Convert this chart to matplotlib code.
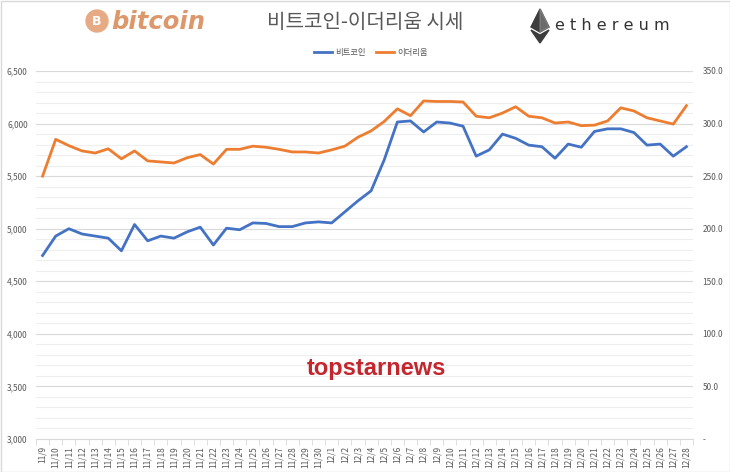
import numpy as np
import matplotlib
matplotlib.use('Agg')
import matplotlib.pyplot as plt
from matplotlib.patches import Polygon, Circle, Rectangle
from matplotlib.ticker import FixedLocator, MultipleLocator, FuncFormatter

plt.rcParams['font.family'] = ['Noto Sans CJK KR', 'DejaVu Sans']

# dates 11/9 .. 12/28
dates = [f'11/{d}' for d in range(9, 31)] + [f'12/{d}' for d in range(1, 29)]

# bitcoin (left axis, USD)
btc = [4745, 4930, 5000, 4950, 4930, 4910, 4790, 5040, 4885, 4930,
       4910, 4970, 5015, 4845, 5005, 4990, 5055, 5050, 5020, 5020,
       5055, 5065, 5055, 5160, 5265, 5360, 5655, 6015, 6025, 5920,
       6015, 6005, 5975, 5690, 5750, 5900, 5860, 5795, 5780, 5670,
       5805, 5775, 5925, 5950, 5950, 5915, 5795, 5805, 5690, 5780]

# ethereum (right axis, USD)
eth = [250.0, 285.0, 279.0, 274.0, 272.0, 276.0, 266.5, 274.0, 264.5, 263.5,
       262.5, 267.5, 270.5, 261.5, 275.5, 275.5, 278.5, 277.5, 275.5, 273.0,
       273.0, 272.0, 275.0, 278.5, 287.0, 293.0, 302.0, 314.0, 307.5, 321.5,
       321.0, 321.0, 320.5, 307.0, 305.5, 310.0, 316.0, 307.0, 305.5, 300.5,
       301.5, 298.0, 298.5, 302.5, 315.0, 312.0, 305.5, 302.5, 299.5, 317.0]

BLUE = '#4472C4'
ORANGE = '#ED7D31'
GRAY = '#595959'

fig = plt.figure(figsize=(7.3, 4.72), dpi=100)
ax = fig.add_axes([36/730, 1 - 439/472, (693 - 36)/730, (439 - 71)/472])
ax2 = ax.twinx()

x = np.arange(len(dates))
l1, = ax.plot(x, btc, color=BLUE, lw=2.0, solid_joinstyle='round', zorder=3)
l2, = ax2.plot(x, eth, color=ORANGE, lw=2.0, solid_joinstyle='round', zorder=3)

ax.set_ylim(3000, 6500)
ax2.set_ylim(0, 350)
ax.set_xlim(-0.5, len(dates) - 0.5)

# gridlines: major every 500, minor every 100
ax.yaxis.set_major_locator(MultipleLocator(500))
ax.yaxis.set_minor_locator(MultipleLocator(100))
ax.grid(axis='y', which='major', color='#d9d9d9', lw=0.8, zorder=0)
ax.grid(axis='y', which='minor', color='#eeeeee', lw=0.8, zorder=0)
ax.set_axisbelow(True)

ax.yaxis.set_major_formatter(FuncFormatter(lambda v, p: f'{int(v):,}'))
ax2.yaxis.set_major_locator(MultipleLocator(50))
ax2.yaxis.set_major_formatter(FuncFormatter(lambda v, p: '-' if v == 0 else f'{v:.1f}'))

ax.set_xticks(x)
ax.set_xticklabels(dates, rotation=90)
ax.xaxis.set_minor_locator(FixedLocator(np.arange(-0.5, len(dates), 1)))
ax.tick_params(axis='x', which='major', length=0, labelsize=6, colors=GRAY, pad=5)
ax.tick_params(axis='x', which='minor', length=4, color='#d9d9d9', direction='out')
ax.tick_params(axis='y', which='both', length=0, labelsize=6, colors=GRAY, pad=6)
ax2.tick_params(axis='y', which='both', length=0, labelsize=6, colors=GRAY, pad=7)

for a in (ax, ax2):
    for s in a.spines.values():
        s.set_visible(False)
ax.spines['bottom'].set_visible(True)
ax.spines['bottom'].set_color('#d9d9d9')

# title and legend
fig.text(0.5, 1 - 22/472, '비트코인-이더리움 시세', ha='center', va='center',
         fontsize=14.5, color=GRAY)
fig.legend([l1, l2], ['비트코인', '이더리움'], loc='center', bbox_to_anchor=(0.508, 1 - 52/472),
           ncol=2, frameon=False, fontsize=6, handlelength=2.2, columnspacing=1.2,
           labelcolor=GRAY, handletextpad=0.4)

# overlay in pixel coordinates for logos, watermark and border
ov = fig.add_axes([0, 0, 1, 1], zorder=10)
ov.set_xlim(0, 730)
ov.set_ylim(472, 0)
ov.axis('off')
ov.patch.set_alpha(0)

# bitcoin logo
ov.add_patch(Circle((97, 21), 11, color='#e6ab85'))
ov.text(97, 21.5, 'B', ha='center', va='center', fontsize=9, color='white',
        fontweight='bold', family='DejaVu Sans')
ov.text(111, 22, 'bitcoin', ha='left', va='center', fontsize=17.5, color='#dc976a',
        fontweight='bold', style='italic', family='DejaVu Sans')

# ethereum logo
ov.add_patch(Polygon([(540, 9), (531, 27), (540, 32), (549, 27)], closed=True, color='#3c3c3d'))
ov.add_patch(Polygon([(540, 9), (540, 32), (549, 27)], closed=True, color='#8c8c8c', alpha=0.6))
ov.add_patch(Polygon([(531, 30), (540, 43), (549, 30), (540, 35)], closed=True, color='#3c3c3d'))
ov.text(555, 25, 'e t h e r e u m', ha='left', va='center', fontsize=11.5, color='#333333',
        family='DejaVu Sans')

# watermark
ov.text(376, 369, 'topstarnews', ha='center', va='center', fontsize=17, color='#c4262e',
        fontweight='bold', family='Liberation Sans')

ov.add_patch(Rectangle((0.5, 0.5), 729, 471, fill=False, ec='#d9d9d9', lw=1))

fig.savefig('out.png', dpi=100)
